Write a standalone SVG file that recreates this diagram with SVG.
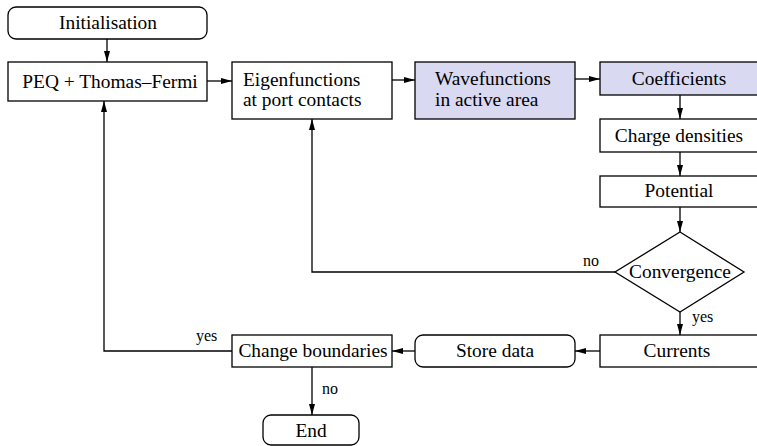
<svg xmlns="http://www.w3.org/2000/svg" width="757" height="446" viewBox="0 0 757 446" font-family="Liberation Serif, DejaVu Serif, serif">
<defs>
<style>
.box{fill:#ffffff;stroke:#000;stroke-width:1.3}
.hl{fill:#d9d9f2;stroke:#000;stroke-width:1.3}
.c{text-anchor:middle}
.edge{fill:none;stroke:#000;stroke-width:1.3}
</style>
<marker id="ah" markerUnits="userSpaceOnUse" markerWidth="12" markerHeight="7" refX="11" refY="3" orient="auto">
<path d="M0,0 L11,3 L0,6 z" fill="#000"/>
</marker>
</defs>
<rect width="757" height="446" fill="#ffffff"/>
<g id="connectors">
<path class="edge" d="M107,39 V62" marker-end="url(#ah)"/>
<path class="edge" d="M207,81 H232" marker-end="url(#ah)"/>
<path class="edge" d="M392,80 H415" marker-end="url(#ah)"/>
<path class="edge" d="M575,79 H600" marker-end="url(#ah)"/>
<path class="edge" d="M680,95 V119" marker-end="url(#ah)"/>
<path class="edge" d="M680,152 V176" marker-end="url(#ah)"/>
<path class="edge" d="M680,207 V232" marker-end="url(#ah)"/>
<path class="edge" d="M615,272 H312 V119" marker-end="url(#ah)"/>
<path class="edge" d="M680,312 V335" marker-end="url(#ah)"/>
<path class="edge" d="M600,351 H575" marker-end="url(#ah)"/>
<path class="edge" d="M415,351 H392" marker-end="url(#ah)"/>
<path class="edge" d="M232,351 H104 V101" marker-end="url(#ah)"/>
<path class="edge" d="M312,367 V415" marker-end="url(#ah)"/>
<g font-family="Liberation Serif, DejaVu Serif, serif" font-size="16">
<text x="583" y="266">no</text>
<text x="692" y="322">yes</text>
<text x="196" y="341">yes</text>
<text x="322" y="394">no</text>
</g>
</g>
<g font-family="Liberation Serif, DejaVu Serif, serif" font-size="19.4">
<g id="initialisation">
<rect class="box" x="8" y="7" width="199" height="32" rx="8"/>
<text class="c" x="108" y="29">Initialisation</text>
</g>
<g id="peq">
<rect class="box" x="8" y="62" width="199" height="39"/>
<text class="c" x="110" y="88">PEQ + Thomas–Fermi</text>
</g>
<g id="eigenfunctions">
<rect class="box" x="232" y="62" width="160" height="57"/>
<text x="243" y="86">Eigenfunctions</text>
<text x="243" y="106">at port contacts</text>
</g>
<g id="wavefunctions">
<rect class="hl" x="415" y="62" width="160" height="57"/>
<text x="435" y="85">Wavefunctions</text>
<text x="435" y="106">in active area</text>
</g>
<g id="coefficients">
<rect class="hl" x="600" y="62" width="160" height="33"/>
<text class="c" x="679" y="85">Coefficients</text>
</g>
<g id="charge">
<rect class="box" x="600" y="119" width="160" height="33"/>
<text class="c" x="679" y="142">Charge densities</text>
</g>
<g id="potential">
<rect class="box" x="600" y="176" width="160" height="31"/>
<text class="c" x="679" y="197">Potential</text>
</g>
<g id="convergence">
<polygon class="box" points="680,232 744,272 680,312 615,272"/>
<text class="c" x="680" y="278">Convergence</text>
</g>
<g id="currents">
<rect class="box" x="600" y="335" width="160" height="32"/>
<text class="c" x="677" y="357">Currents</text>
</g>
<g id="storedata">
<rect class="box" x="415" y="335" width="160" height="32" rx="8"/>
<text class="c" x="495" y="357">Store data</text>
</g>
<g id="changeboundaries">
<rect class="box" x="232" y="335" width="160" height="32"/>
<text class="c" x="313" y="357">Change boundaries</text>
</g>
<g id="end">
<rect class="box" x="263" y="415" width="96" height="30" rx="8"/>
<text class="c" x="311" y="437">End</text>
</g>
</g>
</svg>
